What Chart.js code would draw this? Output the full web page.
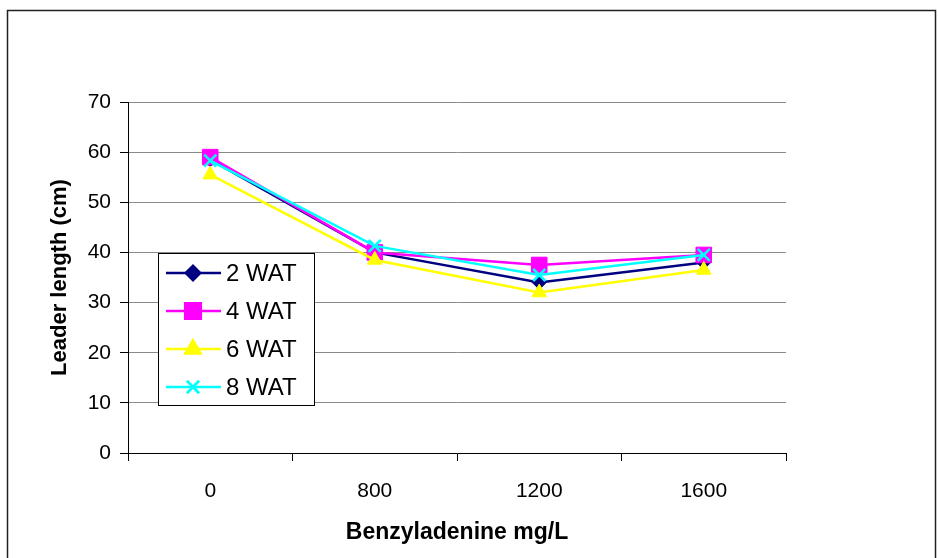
<!DOCTYPE html>
<html>
<head>
<meta charset="utf-8">
<script src="https://cdn.jsdelivr.net/npm/chart.js@4/dist/chart.umd.min.js"></script>
<style>
    html, body { margin: 0; padding: 0; background: #fff; }
    #wrap { width: 938px; height: 558px; }
</style>
</head>
<body>
<div id="wrap"><canvas id="leaderChart" width="938" height="558"></canvas></div>
<script>
const doses = ['0', '800', '1200', '1600'];
const seriesNames = ['2 WAT', '4 WAT', '6 WAT', '8 WAT'];
const wat2 = [58.5, 40, 34, 38];
const wat4 = [59, 40, 37.5, 39.5];
const wat6 = [55.5, 38.5, 32, 36.5];
const wat8 = [58.3, 41.3, 35.5, 39.5];

const lineColors = ['#000080', '#FF00FF', '#FFFF00', '#00FFFF'];
const markers = ['rectRot', 'rect', 'triangle', 'crossRot'];
const markerSizes = [7, 11, 8.5, 8.5];

const FONT = '"Liberation Sans", Arial, sans-serif';

function makeSet(i, values) {
    return {
        label: seriesNames[i],
        data: values,
        borderColor: lineColors[i],
        backgroundColor: lineColors[i],
        borderWidth: 2.5,
        pointStyle: markers[i],
        pointRadius: markerSizes[i],
        pointBorderWidth: markers[i] === 'crossRot' ? 2.5 : 1,
        pointBorderColor: lineColors[i],
        pointBackgroundColor: lineColors[i],
        tension: 0,
        order: 4 - i
    };
}

// page border and the boxed legend inside the plot
const frame = {
    id: 'frame',
    beforeDraw(chart) {
        const ctx = chart.ctx;
        ctx.save();
        ctx.fillStyle = '#fff';
        ctx.fillRect(0, 0, chart.width, chart.height);
        ctx.strokeStyle = '#222';
        ctx.lineWidth = 1.5;
        ctx.strokeRect(7.5, 10.5, 928, 600);
        ctx.restore();
    },
    afterDraw(chart) {
        const ctx = chart.ctx;
        const box = { x: 158.5, y: 253.5, w: 156, h: 152 };
        ctx.save();
        ctx.fillStyle = '#fff';
        ctx.fillRect(box.x, box.y, box.w, box.h);
        ctx.strokeStyle = '#000';
        ctx.lineWidth = 1;
        ctx.strokeRect(box.x, box.y, box.w, box.h);
        ctx.font = '24px ' + FONT;
        ctx.textBaseline = 'middle';
        chart.data.datasets.forEach((ds, i) => {
            const y = 273 + i * 38;
            ctx.strokeStyle = ds.borderColor;
            ctx.lineWidth = 2.5;
            ctx.beginPath();
            ctx.moveTo(166, y);
            ctx.lineTo(221, y);
            ctx.stroke();
            Chart.helpers.drawPoint(ctx, {
                pointStyle: ds.pointStyle,
                radius: ds.pointRadius,
                borderWidth: ds.pointBorderWidth,
                rotation: 0
            }, 193, y);
            ctx.fillStyle = ds.borderColor;
            ctx.strokeStyle = ds.borderColor;
            ctx.fill();
            ctx.stroke();
            ctx.fillStyle = '#000';
            ctx.fillText(ds.label, 226, y + 1);
        });
        ctx.restore();
    }
};

new Chart(document.getElementById('leaderChart').getContext('2d'), {
    type: 'line',
    data: {
        labels: doses,
        datasets: [makeSet(0, wat2), makeSet(1, wat4), makeSet(2, wat6), makeSet(3, wat8)]
    },
    options: {
        responsive: false,
        animation: false,
        layout: { padding: { left: 40, top: 102, right: 152, bottom: 0 } },
        plugins: {
            legend: { display: false },
            tooltip: { enabled: false }
        },
        scales: {
            x: {
                offset: true,
                grid: {
                    offset: true,
                    drawOnChartArea: false,
                    color: '#000',
                    tickLength: 8
                },
                border: { color: '#000', width: 1 },
                ticks: { color: '#000', font: { family: FONT, size: 21 }, padding: 18 },
                title: {
                    display: true,
                    text: 'Benzyladenine mg/L',
                    color: '#000',
                    font: { family: FONT, size: 23, weight: 'bold' },
                    padding: { top: 0, bottom: 12 }
                },
                afterFit(scale) { scale.height = 105; }
            },
            y: {
                min: 0,
                max: 70,
                ticks: { stepSize: 10, color: '#000', font: { family: FONT, size: 21 }, padding: 9 },
                grid: { color: '#8a8a8a', tickColor: '#000', tickLength: 8 },
                border: { color: '#000', width: 1 },
                title: {
                    display: true,
                    text: 'Leader length (cm)',
                    color: '#000',
                    font: { family: FONT, size: 22, weight: 'bold' },
                    padding: { top: 7, bottom: 0 }
                },
                afterFit(scale) { scale.width = 88; }
            }
        }
    },
    plugins: [frame]
});
</script>
</body>
</html>
